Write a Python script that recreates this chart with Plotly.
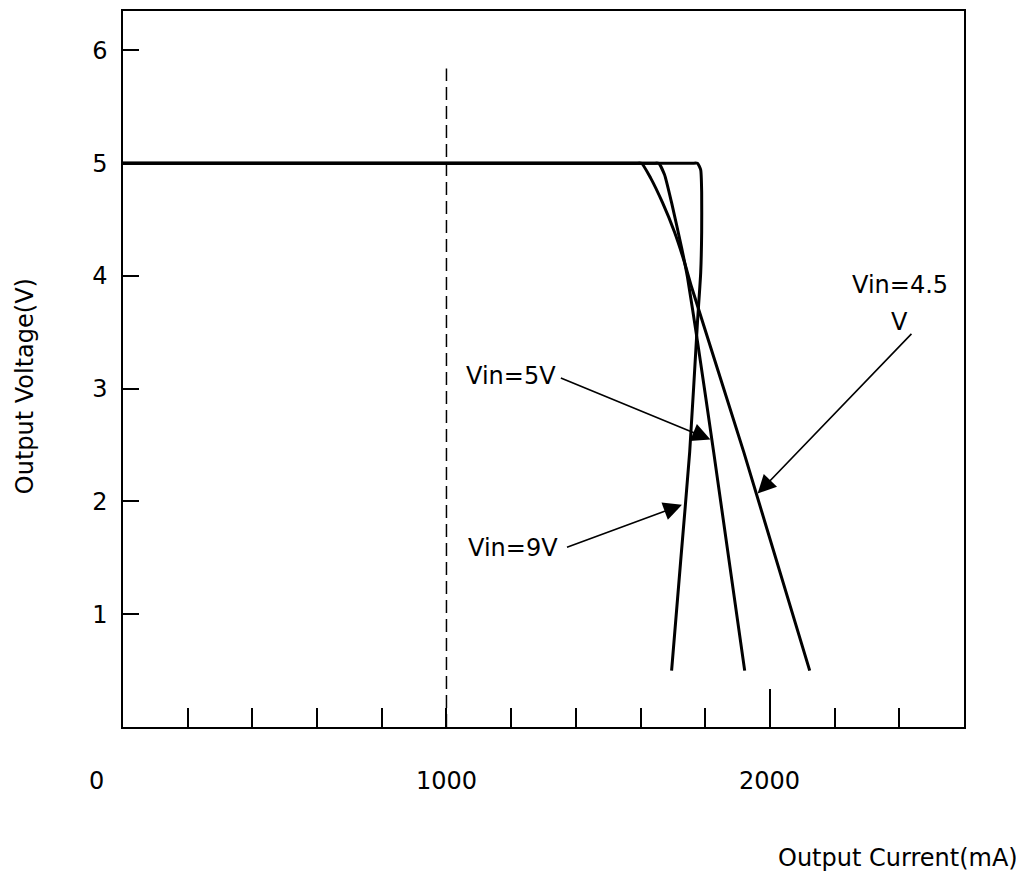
import plotly.graph_objects as go

# ---- data (mA, V) ----
current_9v = [0, 800, 1400, 1700, 1760, 1776, 1786, 1789, 1789, 1786, 1776, 1752, 1724, 1696]
voltage_9v = [5.0, 5.0, 5.0, 5.0, 5.0, 5.0, 4.94, 4.74, 4.39, 4.03, 3.59, 2.44, 1.47, 0.50]

current_5v = [0, 800, 1300, 1560, 1640, 1656, 1674, 1696, 1727, 1745, 1776, 1826, 1922]
voltage_5v = [5.0, 5.0, 5.0, 5.0, 5.0, 5.0, 4.90, 4.65, 4.25, 3.99, 3.42, 2.44, 0.50]

current_45v = [0, 800, 1250, 1500, 1585, 1603, 1631, 1668, 1705, 1736, 1758, 1919, 2123]
voltage_45v = [5.0, 5.0, 5.0, 5.0, 5.0, 5.0, 4.87, 4.65, 4.39, 4.12, 3.90, 2.44, 0.50]

ref_current = [1000, 1000]
ref_voltage = [0, 5.84]

x_tick_vals = [0, 1000, 2000]
x_tick_text = ["0", "1000", "2000"]
x_minor_ticks = [200, 400, 600, 800, 1000, 1200, 1400, 1600, 1800, 2200, 2400]
x_major_ticks = [2000, 2600]
y_tick_vals = [1, 2, 3, 4, 5, 6]

labels = [
    # text, text_x, text_y, tail_x, tail_y, tip_x, tip_y
    ("Vin=5V", 1198, 3.11, 1349, 3.10, 1816, 2.55),
    ("Vin=9V", 1207, 1.59, 1368, 1.59, 1728, 1.97),
    ("Vin=4.5", 2401, 3.92, 2442, 3.50, 1962, 2.07),
]
extra_text = ("V", 2401, 3.59)

FONT = "DejaVu Sans, sans-serif"
FS = 24

fig = go.Figure()
line = dict(color="black", width=3, shape="spline", smoothing=0.5)
fig.add_trace(go.Scatter(x=current_9v, y=voltage_9v, mode="lines", line=line, name="Vin=9V"))
fig.add_trace(go.Scatter(x=current_5v, y=voltage_5v, mode="lines", line=line, name="Vin=5V"))
fig.add_trace(go.Scatter(x=current_45v, y=voltage_45v, mode="lines", line=line, name="Vin=4.5V"))
fig.add_trace(go.Scatter(x=ref_current, y=ref_voltage, mode="lines",
                         line=dict(color="black", width=1.5, dash="13px,6px"), name="ref"))

annotations = []
for text, tx, ty, ax, ay, px, py in labels:
    annotations.append(dict(x=tx, y=ty, xref="x", yref="y", text=text, showarrow=False,
                            font=dict(family=FONT, size=FS, color="black"),
                            xanchor="center", yanchor="middle"))
    annotations.append(dict(x=px, y=py, xref="x", yref="y", ax=ax, ay=ay, axref="x", ayref="y",
                            text="", showarrow=True, arrowhead=2, arrowsize=2.3, arrowwidth=1.6,
                            arrowcolor="black", standoff=0, startstandoff=0))
annotations.append(dict(x=extra_text[1], y=extra_text[2], xref="x", yref="y", text=extra_text[0],
                        showarrow=False, font=dict(family=FONT, size=FS, color="black"),
                        xanchor="center", yanchor="middle"))
# x tick labels
x_label_offsets = [-27, 0, 0]
for v, t, off in zip(x_tick_vals, x_tick_text, x_label_offsets):
    annotations.append(dict(x=v, y=-0.075, xref="x", yref="paper", text=t, showarrow=False,
                            xshift=off, font=dict(family=FONT, size=FS, color="black"),
                            xanchor="center", yanchor="middle"))
# axis titles
annotations.append(dict(x=0.921, y=-0.1825, xref="paper", yref="paper", text="Output Current(mA)",
                        showarrow=False, font=dict(family=FONT, size=FS, color="black"),
                        xanchor="center", yanchor="middle"))
annotations.append(dict(x=-0.1165, y=0.476, xref="paper", yref="paper", text="Output Voltage(V)",
                        showarrow=False, textangle=-90, font=dict(family=FONT, size=FS, color="black"),
                        xanchor="center", yanchor="middle"))

fig.update_layout(
    width=1016, height=879,
    margin=dict(l=115, r=60, t=1, b=160),
    paper_bgcolor="white", plot_bgcolor="white",
    showlegend=False,
    font=dict(family=FONT, size=FS, color="black"),
    annotations=annotations,
    xaxis=dict(range=[0, 2600], showgrid=False, zeroline=False,
               showline=True, mirror=True, linecolor="black", linewidth=1.5,
               tickmode="array", tickvals=x_major_ticks, ticks="inside", ticklen=38,
               tickwidth=1.5, tickcolor="black", showticklabels=False,
               minor=dict(tickmode="array", tickvals=x_minor_ticks, ticks="inside",
                          ticklen=19, tickwidth=1.5, tickcolor="black", showgrid=False)),
    yaxis=dict(range=[0, 6.35], showgrid=False, zeroline=False,
               showline=True, mirror=True, linecolor="black", linewidth=1.5,
               tickmode="array", tickvals=y_tick_vals, ticks="inside", ticklen=16,
               tickwidth=1.5, tickcolor="black", ticklabelstandoff=9,
               tickfont=dict(family=FONT, size=FS, color="black")),
)

fig.write_html("out.html")
